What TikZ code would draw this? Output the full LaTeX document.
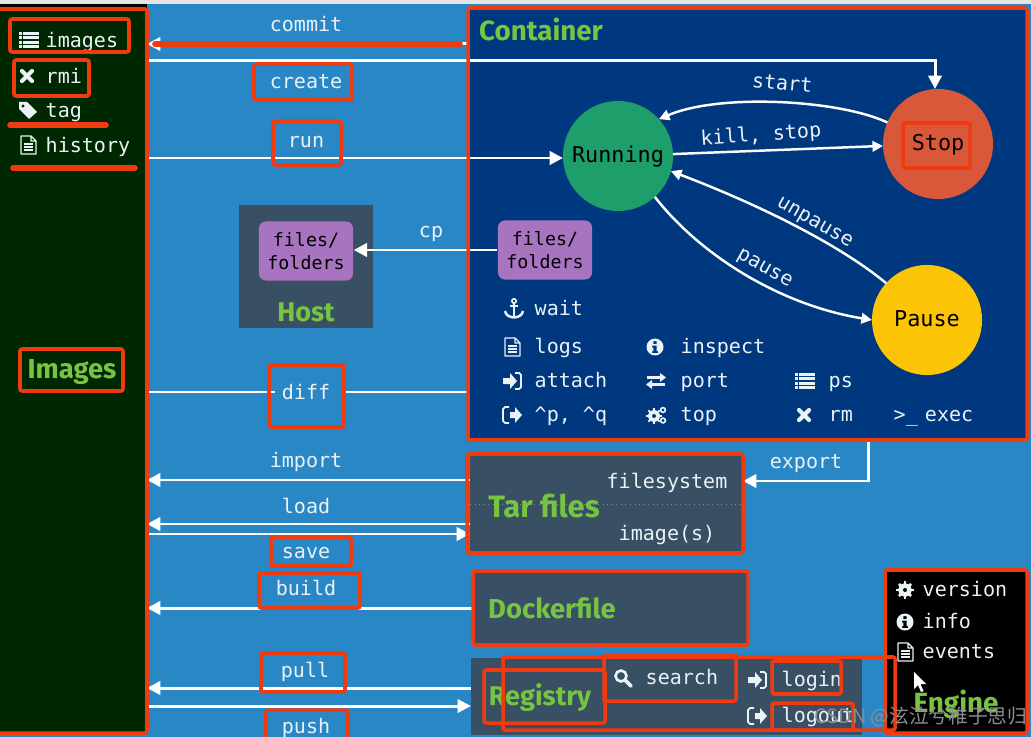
\documentclass[tikz,border=0pt]{standalone}
\usepackage{fontspec}
\setmainfont{Fira Sans}
\setmonofont{DejaVu Sans Mono}
\newfontfamily\cjkfont{Noto Sans CJK SC}
\usetikzlibrary{arrows.meta}

\definecolor{sheetblue}{HTML}{2A87C6}
\definecolor{imagegreen}{HTML}{002800}
\definecolor{containerblue}{HTML}{00387F}
\definecolor{slategrey}{HTML}{384F64}
\definecolor{chippurple}{HTML}{A874C0}
\definecolor{stopred}{HTML}{D9583A}
\definecolor{runninggreen}{HTML}{1E9E6A}
\definecolor{pauseyellow}{HTML}{FBC405}
\definecolor{titlegreen}{HTML}{76C442}
\definecolor{redmark}{HTML}{F03A10}
\definecolor{softwhite}{HTML}{EAF2F5}

\tikzset{
    panel/.style={inner sep=0pt, outer sep=0pt},
    state/.style={circle, inner sep=0pt, outer sep=0pt, minimum size=1.1cm, text=black,
        text height=3.7pt, text depth=0pt, font=\ttfamily\fontsize{6.2}{7}\selectfont},
    cmd/.style={text=softwhite, inner sep=0pt, text height=4.2pt, text depth=1.2pt,
        font=\ttfamily\fontsize{5.7}{7}\selectfont},
    title/.style={text=titlegreen, inner sep=0pt, font=\bfseries\fontsize{#1}{9}\selectfont},
    title/.default=7.8,
    chip/.style={fill=chippurple, rounded corners=2pt, minimum width=.94cm, minimum height=.59cm,
        inner sep=0pt, align=center, text=black, font=\ttfamily\fontsize{5.2}{6.6}\selectfont},
    flow/.style={draw=white, line width=.85pt, -{Triangle[length=3.8pt,width=3.8pt]}},
    wire/.style={draw=white, line width=.85pt},
    cycle/.style={draw=white, line width=.7pt, -{Triangle[length=3pt,width=3pt]}},
    redbox/.style={draw=redmark, line width=1pt, rounded corners=.6pt},
    redline/.style={draw=redmark, line width=1.6pt, line cap=round},
    % icons
    listicon/.pic={
        \foreach \iy in {-6.5,-2.2,2.2,6.5} {
            \fill[softwhite] (-10,\iy-1.4) rectangle (-7,\iy+1.4);
            \fill[softwhite] (-6,\iy-1.4) rectangle (10,\iy+1.4);
        }
    },
    crossicon/.pic={
        \draw[softwhite, line width=1.2pt, line cap=round] (-5,-5) -- (5,5) (-5,5) -- (5,-5);
    },
    tagicon/.pic={
        \fill[softwhite, even odd rule] (-9,-8) -- (-1,-8) -- (9,2) -- (1,9) -- (-9,-1) -- cycle
            (-5,-4) circle (1.8);
    },
    docicon/.pic={
        \draw[softwhite, line width=.35pt, line join=round] (-7,-9) -- (3,-9) -- (8,-4) -- (8,9) -- (-7,9) -- cycle
            (3,-9) -- (3,-4) -- (8,-4);
        \foreach \iy in {-1,2,5}
            \draw[softwhite, line width=.35pt] (-4,\iy) -- (5,\iy);
    },
    infoicon/.pic={
        \fill[softwhite, even odd rule] (0,0) circle (8.5)
            (-1.6,-6) rectangle (1.6,-3)
            (-3,-1.5) -- (1.6,-1.5) -- (1.6,4) -- (3,4) -- (3,6) -- (-3,6) -- (-3,4) -- (-1.6,4) -- (-1.6,.5) -- (-3,.5) -- cycle;
    },
    signinicon/.pic={
        \fill[softwhite] (-9,-3) -- (-2,-3) -- (-2,-8) -- (5,0) -- (-2,8) -- (-2,3) -- (-9,3) -- cycle;
        \draw[softwhite, line width=.5pt] (3,-8) -- (7,-8) -- (9,-6) -- (9,6) -- (7,8) -- (3,8);
    },
    signouticon/.pic={
        \fill[softwhite] (-2,-3) -- (3,-3) -- (3,-8) -- (10,0) -- (3,8) -- (3,3) -- (-2,3) -- cycle;
        \draw[softwhite, line width=.5pt] (-3,-8) -- (-7,-8) -- (-9,-6) -- (-9,6) -- (-7,8) -- (-3,8);
    },
    anchoricon/.pic={
        \draw[softwhite, line width=.45pt] (0,-8) circle (2.2);
        \draw[softwhite, line width=.7pt] (0,-6) -- (0,8) (-4,-3) -- (4,-3);
        \draw[softwhite, line width=.7pt] (-9,2) .. controls (-8,7) and (-4,8) .. (0,8.5) .. controls (4,8) and (8,7) .. (9,2);
    },
    swapicon/.pic={
        \draw[softwhite, line width=.7pt] (-9,-3.5) -- (6,-3.5) (9,3.5) -- (-6,3.5);
        \fill[softwhite] (10,-3.5) -- (4,-8) -- (4,1) -- cycle (-10,3.5) -- (-4,-1) -- (-4,8) -- cycle;
    },
    gearicon/.pic={
        \draw[softwhite, line width=1.1pt] (-3,1) circle (4.2);
        \foreach \ia in {0,45,...,315}
            \draw[softwhite, line width=.55pt] (-3,1) ++(\ia:5) -- ++(\ia:2.8);
        \draw[softwhite, line width=.45pt] (6,-5) circle (2.4) (6,5.5) circle (2.4);
    },
    gearbigicon/.pic={
        \draw[softwhite, line width=1.3pt] (0,0) circle (4.6);
        \foreach \ia in {0,45,...,315}
            \draw[softwhite, line width=.75pt] (\ia:5.4) -- (\ia:8.6);
    },
    searchicon/.pic={
        \draw[softwhite, line width=.75pt] (-2,-2) circle (5.5);
        \draw[softwhite, line width=1.1pt, line cap=round] (2.5,2.5) -- (8,8);
    },
    cursoricon/.pic={
        \fill[white] (0,0) -- (0,17) -- (4,13) -- (7,20) -- (9.5,19) -- (6.5,12) -- (12,12) -- cycle;
    }
}

\begin{document}
\begin{tikzpicture}[x=.01cm, y=-.01cm]

    \useasboundingbox (0,0) rectangle (1031,737);

    % ==========================================
    % SHEET AND PANELS
    % ==========================================
    \fill[sheetblue] (0,0) rectangle (1031,737);
    \fill[black!10] (0,0) rectangle (1031,4);
    \fill[black] (0,4) rectangle (147,9);

    \node[panel, fill=imagegreen, minimum width=1.47cm, minimum height=7.25cm] (imagespanel) at (73.5,370.5) {};
    \node[panel, fill=containerblue, minimum width=5.59cm, minimum height=4.32cm] (containerpanel) at (747.5,224) {};
    \node[panel, fill=slategrey, minimum width=1.34cm, minimum height=1.23cm] (hostpanel) at (306,266.5) {};
    \node[panel, fill=slategrey, minimum width=2.73cm, minimum height=.97cm] (tarpanel) at (606.5,504.5) {};
    \node[panel, fill=slategrey, minimum width=2.76cm, minimum height=.73cm] (dockerpanel) at (610,608.5) {};
    \node[panel, fill=slategrey, minimum width=3.91cm, minimum height=.77cm] (registrypanel) at (666.5,696.5) {};
    \node[panel, fill=black, minimum width=1.43cm, minimum height=1.63cm] (enginepanel) at (955.5,651.5) {};

    % dotted split in the tar panel
    \draw[densely dotted, black!45, line width=.3pt] (tarpanel.west) -- (tarpanel.east);

    % ==========================================
    % CONTAINER STATES
    % ==========================================
    \node[state, fill=runninggreen] (runningstate) at (618,156) {Running};
    \node[state, fill=stopred] (stopstate) at (938,144) {Stop};
    \node[state, fill=pauseyellow] (pausestate) at (927,320) {Pause};

    \draw[cycle] (stopstate.157) .. controls (840,100) and (720,93) .. (runningstate.42);
    \draw[cycle] (runningstate.2) -- (stopstate.182);
    \draw[cycle] (pausestate.138) .. controls (840,245) and (760,205) .. (runningstate.-16);
    \draw[cycle] (runningstate.-48) .. controls (700,255) and (780,305) .. (pausestate.180);

    \node[cmd, rotate=-5] (startlabel) at (782,85) {start};
    \node[cmd, rotate=4] (killlabel) at (761,136) {kill, stop};
    \node[cmd, rotate=-30] (unpauselabel) at (815,222) {unpause};
    \node[cmd, rotate=-29] (pauselabel) at (765,268) {pause};

    % ==========================================
    % FILES AND COPY
    % ==========================================
    \node[chip] (hostfiles) at (306,251) {files/\\folders};
    \node[chip] (containerfiles) at (545,250) {files/\\folders};
    \draw[flow] (containerfiles.west) -- (containerfiles.west -| hostfiles.east);
    \node[cmd] (cplabel) at (431,232) {cp};

    % ==========================================
    % ARROWS BETWEEN THE PANELS
    % ==========================================
    \draw[flow] (containerpanel.west |- 0,44) -- (imagespanel.east |- 0,44);
    \draw[flow] (imagespanel.east |- 0,61) -| (stopstate.north -| 935,0);
    \draw[flow] (imagespanel.east |- 0,158) -- (runningstate.west |- 0,158);
    \draw[wire] (imagespanel.east |- 0,392) -- (containerpanel.west |- 0,392);
    \draw[flow] (tarpanel.west |- 0,480) -- (imagespanel.east |- 0,480);
    \draw[flow] (tarpanel.west |- 0,524) -- (imagespanel.east |- 0,524);
    \draw[flow] (imagespanel.east |- 0,534) -- (tarpanel.west |- 0,534);
    \draw[flow] (dockerpanel.west |- 0,608) -- (imagespanel.east |- 0,608);
    \draw[flow] (registrypanel.west |- 0,688) -- (imagespanel.east |- 0,688);
    \draw[flow] (imagespanel.east |- 0,706) -- (registrypanel.west |- 0,706);
    \draw[flow] (containerpanel.south -| 868,0) |- (tarpanel.east |- 0,481);

    % command names along the arrows
    \foreach \nm/\px/\py/\tx in {commitcmd/306/26/commit, createcmd/306/83/create, runcmd/306/142/run,
        importcmd/306/462/import, loadcmd/306/508/load, savecmd/306/553/save,
        buildcmd/306/590/build, pullcmd/305/672/pull, pushcmd/306/728/push,
        exportcmd/806/463/export, fscmd/667/483/filesystem, imgcmd/667/535/image(s)}
        \node[cmd] (\nm) at (\px,\py) {\tx};
    \fill[sheetblue] (275,385) rectangle (342,400);
    \node[cmd] (diffcmd) at (306,394) {diff};

    % ==========================================
    % TITLES
    % ==========================================
    \node[title=7.8] (imagestitle) at (72,372) {Images};
    \node[title=7.9] (containertitle) at (541,29) {Container};
    \node[title=7.7] (hosttitle) at (306,312) {Host};
    \node[title=8.8] (tartitle) at (544,506) {Tar files};
    \node[title=7.8] (dockertitle) at (552,608) {Dockerfile};
    \node[title=7.7] (registrytitle) at (540,698) {Registry};
    \node[title=7.9] (enginetitle) at (956,704) {Engine};

    % ==========================================
    % LISTS WITH ICONS
    % ==========================================
    \foreach \ic/\ix/\iy/\nm/\tx in {
        listicon/29/40/imagescmd/images, crossicon/27/76/rmicmd/rmi, tagicon/28/110/tagcmd/tag, docicon/28/145/historycmd/history}
    {
        \pic at (\ix,\iy) {\ic};
        \node[cmd, anchor=west] (\nm) at (45,\iy+2) {\tx};
    }

    \foreach \ic/\ix/\iy/\lx/\nm/\tx in {
        anchoricon/514/309/534/waitcmd/wait, docicon/512/347/534/logscmd/logs, signinicon/512/381/534/attachcmd/attach,
        signouticon/512/415/534/detachcmd/{\textasciicircum p, \textasciicircum q},
        infoicon/655/347/680/inspectcmd/inspect, swapicon/656/381/680/portcmd/port, gearicon/657/415/680/topcmd/top,
        listicon/805/381/828/pscmd/ps, crossicon/804/415/828/rmcmd/rm}
    {
        \pic at (\ix,\iy) {\ic};
        \node[cmd, anchor=west] (\nm) at (\lx,\iy+1.5) {\tx};
    }
    \node[cmd, anchor=west] (execcmd) at (893,416.5) {>\_\hspace{-1.4pt} exec};

    \foreach \ic/\ix/\iy/\lx/\nm/\tx in {
        searchicon/623/678/645/searchcmd/search, signinicon/757/680/781/logincmd/login, signouticon/757/716/781/logoutcmd/logout}
    {
        \pic at (\ix,\iy) {\ic};
        \node[cmd, anchor=west] (\nm) at (\lx,\iy+1) {\tx};
    }

    \foreach \ic/\iy/\nm/\tx in {
        gearbigicon/590/versioncmd/version, infoicon/622/infocmd/info, docicon/652/eventscmd/events}
    {
        \pic at (905,\iy) {\ic};
        \node[cmd, anchor=west] (\nm) at (922,\iy+1) {\tx};
    }
    \pic at (914,672) {cursoricon};

    % ==========================================
    % RED MARKS
    % ==========================================
    \foreach \xa/\ya/\xb/\yb in {10/19/129/52, 14/60/89/96, 20/349/123/391, 254/64/352/100, 273/121/341/165,
        903/123/970/168, 269/365/344/427, 468/8/1027/440, 467/454/743/553, 271/537/351/566, 259/573/360/608,
        473/571/748/645, 261/653/345/692, 266/710/348/745, 484/670/605/723, 503/657/895/730, 604/655/736/701,
        772/661/841/694, 772/703/853/730, 885/570/1027/733}
        \draw[redbox] (\xa,\ya) rectangle (\xb,\yb);
    \draw[redbox] (-5,9) -- (147,9) -- (147,733) -- (-5,733);

    \draw[redline] (10,125) -- (106,125);
    \draw[redline] (13,168) -- (135,168);
    \draw[redline] (155,44) -- (460,44);

    % watermark
    \node[text=black!45, inner sep=0pt, font=\cjkfont\fontsize{5.6}{6}\selectfont] (watermark) at (921,717) {CSDN @泫泣兮稚子思归};

\end{tikzpicture}
\end{document}
